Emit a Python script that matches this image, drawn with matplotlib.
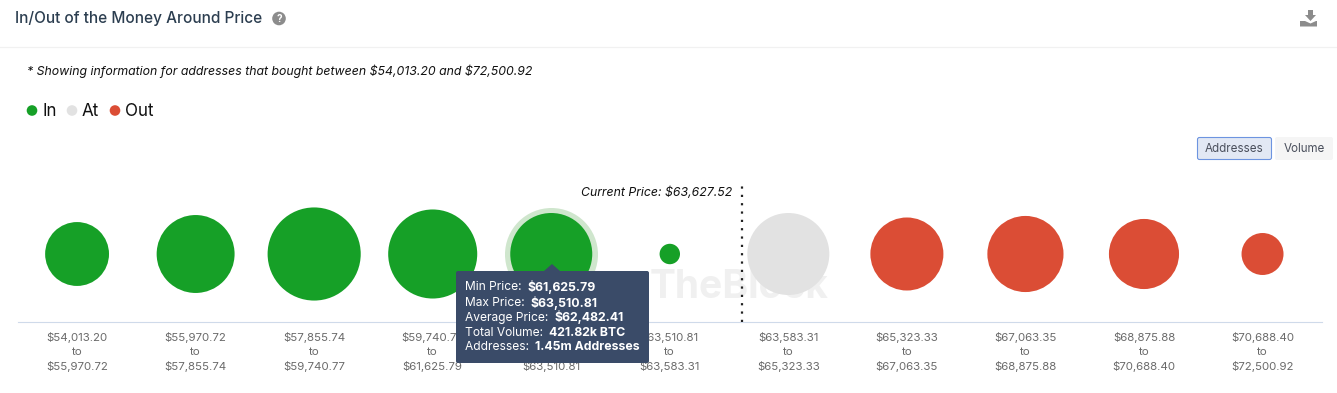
import matplotlib
matplotlib.use("Agg")
import matplotlib.pyplot as plt
from matplotlib.patches import FancyBboxPatch, Polygon, Circle

plt.rcParams['font.family'] = ['Inter', 'DejaVu Sans']

W, H = 1337, 393
PX = 0.72  # points per pixel at dpi 100

# ---- data ----
range_low = ["$54,013.20", "$55,970.72", "$57,855.74", "$59,740.77", "$61,625.79", "$63,510.81",
             "$63,583.31", "$65,323.33", "$67,063.35", "$68,875.88", "$70,688.40"]
range_high = ["$55,970.72", "$57,855.74", "$59,740.77", "$61,625.79", "$63,510.81", "$63,583.31",
              "$65,323.33", "$67,063.35", "$68,875.88", "$70,688.40", "$72,500.92"]
addresses_m = [0.88, 1.31, 1.87, 1.71, 1.45, 0.09, 1.45, 1.15, 1.25, 1.06, 0.38]
status = ["In", "In", "In", "In", "In", "In", "At", "Out", "Out", "Out", "Out"]
status_colors = {"In": "#16a027", "At": "#e2e2e2", "Out": "#db4d35"}
highlight_index = 4
current_price_pos = 5.61
tooltip_rows = [("Min Price: ", "$61,625.79"), ("Max Price: ", "$63,510.81"),
                ("Average Price: ", "$62,482.41"), ("Total Volume: ", "421.82k BTC"),
                ("Addresses: ", "1.45m Addresses")]


def esc(s):
    return s.replace("$", r"\$")


fig = plt.figure(figsize=(W / 100, H / 100), dpi=100, facecolor="white")

# ---- chart axes ----
ax = fig.add_axes([17.8 / W, 1 - 322 / H, (1321.8 - 17.8) / W, (322 - 170) / H])
ov = fig.add_axes([0, 0, 1, 1], zorder=5)
ov.set_xlim(0, W); ov.set_ylim(H, 0); ov.axis("off"); ov.patch.set_alpha(0)

SCALE = (41 * 2 * PX) ** 2 / 1.45  # pt^2 per million addresses (area encodes value)
xs = list(range(len(addresses_m)))
ys = [0] * len(xs)
ax.scatter(xs, ys, s=[a * SCALE for a in addresses_m],
           c=[status_colors[s] for s in status], linewidths=0, zorder=3)
ax.scatter([xs[highlight_index]], [0], s=(46.5 * 2 * PX) ** 2, c="#cfe6cd", linewidths=0, zorder=2)

ax.set_xlim(-0.5, 10.5)
ax.set_ylim(-68, 84)
ax.set_yticks([])
ax.set_xticks(xs)
ax.set_xticklabels([esc(f"{a}\nto\n{b}") for a, b in zip(range_low, range_high)],
                   fontsize=11.5 * PX, color="#6a6a6a", linespacing=1.5)
ax.tick_params(axis="x", length=0, pad=7)
for side in ("top", "left", "right"):
    ax.spines[side].set_visible(False)
ax.spines["bottom"].set_color("#cfdaea")
ax.axvline(current_price_pos, ymin=0, ymax=(322 - 186) / 152, color="#222222",
           linestyle=(0, (1, 2.75)), linewidth=1.6, zorder=4)
ax.text(732, 192.5, esc("Current Price: $63,627.52"), transform=ov.transData, ha="right", va="center",
        fontsize=12.3 * PX, style="italic", color="#111111")
ax.text(739, 287, "TheBlock", transform=ov.transData, ha="center", va="center",
        fontsize=39 * PX, fontweight="bold", color="#f0f0f0", zorder=1)

# ---- header ----
ov.text(15, 18.5, "In/Out of the Money Around Price", fontsize=15.4 * PX, color="#2c3e50",
        va="center", ha="left", fontweight="medium")
ov.add_patch(Circle((279, 18.5), 6.8, fc="#8c8c8c", ec="none"))
ov.text(279, 18.7, "?", fontsize=10 * PX, color="white", fontweight="bold", ha="center", va="center")
ov.plot([0, W], [47, 47], color="#f1f1f1", lw=0.9)

# download icon
icon = "#8c8c8c"
ov.add_patch(Polygon([(1308, 10), (1313, 10), (1313, 15), (1316, 15), (1310.5, 21), (1305, 15), (1308, 15)],
                     fc=icon, ec="none"))
ov.add_patch(Polygon([(1300, 21), (1305, 21), (1310.5, 23.5), (1316, 21), (1317, 21), (1317, 26.5), (1300, 26.5)],
                     fc=icon, ec="none"))

ov.text(27, 71, esc("* Showing information for addresses that bought between $54,013.20 and $72,500.92"),
        fontsize=12.32 * PX, style="italic", color="#111111", va="center", ha="left")

# legend
for cx, tx, name in [(32, 42, "In"), (72, 82, "At"), (115, 125, "Out")]:
    ov.add_patch(Circle((cx, 110.5), 5.3, fc=status_colors[name], ec="none"))
    ov.text(tx, 111, name, fontsize=17 * PX, color="#111111", va="center", ha="left")

# buttons
ov.add_patch(FancyBboxPatch((1197.5, 137.5), 74, 22, boxstyle="round,pad=0,rounding_size=2",
                            fc="#e2e8f4", ec="#6d94e0", lw=0.8))
ov.add_patch(FancyBboxPatch((1275, 137), 58, 23, boxstyle="round,pad=0,rounding_size=2",
                            fc="#f5f5f5", ec="none"))
ov.text(1234.5, 148.7, "Addresses", fontsize=11.6 * PX, color="#4a4f5c", ha="center", va="center")
ov.text(1304, 148.7, "Volume", fontsize=11.6 * PX, color="#4a4f5c", ha="center", va="center")

# tooltip
tip = "#3a4b68"
ov.add_patch(FancyBboxPatch((456, 271), 193, 92, boxstyle="round,pad=0,rounding_size=2", fc=tip, ec="none"))
ov.add_patch(Polygon([(544, 271), (552, 264), (560, 271)], fc=tip, ec="none"))
renderer = fig.canvas.get_renderer()
inv = ov.transData.inverted()
for i, (label, val) in enumerate(tooltip_rows):
    y = 287.5 + i * 15
    t = ov.text(465, y, esc(label), fontsize=12 * PX, color="white", va="center", ha="left")
    x1 = inv.transform(t.get_window_extent(renderer).get_points())[1][0]
    ov.text(x1 + 2.6, y, esc(val), fontsize=12.3 * PX, color="white", va="center", ha="left", fontweight="bold")

fig.savefig("out.png", dpi=100, facecolor="white")
